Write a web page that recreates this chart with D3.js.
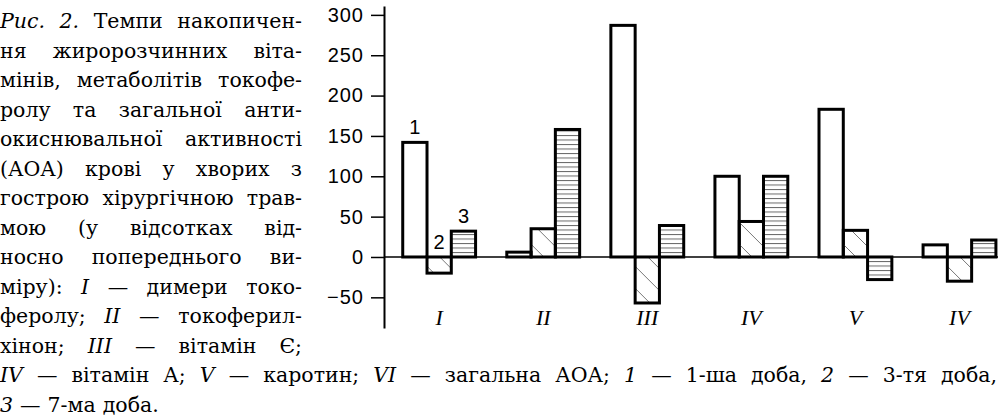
<!DOCTYPE html>
<html>
<head>
<meta charset="utf-8">
<script src="https://cdn.jsdelivr.net/npm/d3@7"></script>
<style>
  body { margin: 0; background: #fff; }
  svg { display: block; }
</style>
</head>
<body>
<svg id="chart" width="1001" height="415"></svg>
<script>
// categories (the last one is printed "IV" in the source figure)
const categories = ["I", "II", "III", "IV", "V", "IV"];
const seriesLabels = ["1", "2", "3"];

// percent change vs previous measurement
const day1 = [142, 6, 287, 100, 183, 15];
const day3 = [-20, 35, -57, 44, 33, -30];
const day7 = [32, 158, 39, 100, -28, 21];

const yTicks = [-50, 0, 50, 100, 150, 200, 250, 300];

// caption, "*" marks italic words
const captionLeft = [
    "*Рис. *2. Темпи накопичен-",
    "ня жиророзчинних віта-",
    "мінів, метаболітів токофе-",
    "ролу та загальної анти-",
    "окиснювальної активності",
    "(АОА) крові у хворих з",
    "гострою хірургічною трав-",
    "мою (у відсотках від-",
    "носно попереднього ви-",
    "міру): *I — димери токо-",
    "феролу; *II — токоферил-",
    "хінон; *III — вітамін Є;"
];
const captionBottom = [
    "*IV — вітамін А; *V — каротин; *VI — загальна АОА; *1 — 1-ша доба, *2 — 3-тя доба,",
    "*3 — 7-ма доба."
];

var svg = d3.select("#chart");
var defs = svg.append("defs");

// hatch patterns
var diag = defs.append("pattern")
    .attr("id", "diag")
    .attr("patternUnits", "userSpaceOnUse")
    .attr("width", 22)
    .attr("height", 22);
diag.append("path")
    .attr("d", "M-2,-2L24,24M-2,20L2,24M20,-2L24,2")
    .attr("stroke", "#777")
    .attr("stroke-width", 1);

var horiz = defs.append("pattern")
    .attr("id", "horiz")
    .attr("patternUnits", "userSpaceOnUse")
    .attr("width", 6)
    .attr("height", 4.5);
horiz.append("line")
    .attr("x1", 0).attr("x2", 6)
    .attr("y1", 0.5).attr("y2", 0.5)
    .attr("stroke", "#666")
    .attr("stroke-width", 1);

const fills = ["#fff", "url(#diag)", "url(#horiz)"];
const series = [day1, day3, day7];

// scales
var axisX = 384, rightX = 998;

var x0 = d3.scaleBand()
    .domain(d3.range(categories.length))
    .range([axisX, rightX])
    .paddingInner(0.3)
    .paddingOuter(0.1)
    .align(0.9);

var x1 = d3.scaleBand()
    .domain(d3.range(series.length))
    .range([0, x0.bandwidth()]);

var y = d3.scaleLinear()
    .domain([-88, 311])
    .range([328, 6]);

// zero line
svg.append("line")
    .attr("x1", axisX).attr("x2", rightX)
    .attr("y1", y(0)).attr("y2", y(0))
    .attr("stroke", "#000")
    .attr("stroke-width", 1.5);

// bars
var groups = svg.append("g")
    .selectAll("g")
    .data(categories)
    .join("g")
    .attr("transform", (d, i) => "translate(" + x0(i) + ",0)");

groups.selectAll("rect")
    .data((d, i) => series.map((s, k) => ({ k: k, v: s[i] })))
    .join("rect")
    .attr("x", d => x1(d.k))
    .attr("width", x1.bandwidth())
    .attr("y", d => y(Math.max(d.v, 0)))
    .attr("height", d => Math.abs(y(d.v) - y(0)))
    .attr("fill", d => fills[d.k])
    .attr("stroke", "#000")
    .attr("stroke-width", 3);

// series numbers above the first group
svg.append("g")
    .selectAll("text")
    .data(seriesLabels)
    .join("text")
    .attr("x", (d, k) => x0(0) + x1(k) + x1.bandwidth() / 2)
    .attr("y", (d, k) => y(Math.max(series[k][0], 0)) - 8)
    .attr("text-anchor", "middle")
    .style("font-family", "'Liberation Sans', Arial, sans-serif")
    .style("font-size", "20px")
    .text(d => d);

// y axis
var yAxis = svg.append("g")
    .attr("transform", "translate(" + axisX + ",0)")
    .call(d3.axisLeft(y).tickValues(yTicks).tickSize(13).tickSizeOuter(0).tickPadding(7));
yAxis.select(".domain").attr("stroke-width", 2);
yAxis.selectAll(".tick line").attr("stroke-width", 1.5);
yAxis.selectAll(".tick text")
    .style("font-family", "'Liberation Sans', Arial, sans-serif")
    .style("font-size", "20px")
    .style("letter-spacing", "1px")
    .attr("fill", "#000");

// category labels
svg.append("g")
    .selectAll("text")
    .data(categories)
    .join("text")
    .attr("x", (d, i) => x0(i) + x0.bandwidth() / 2)
    .attr("y", 325)
    .attr("text-anchor", "middle")
    .style("font-family", "'Liberation Serif', 'Times New Roman', serif")
    .style("font-style", "italic")
    .style("font-size", "22px")
    .text(d => d);

// caption: justified lines, word by word
var cap = svg.append("g")
    .style("font-family", "'DejaVu Serif', serif")
    .style("font-size", "20.5px")
    .attr("fill", "#000");

function captionLine(line, left, width, baseline, justify) {
    var words = line.split(" ");
    var nodes = words.map(w => {
        var it = w.startsWith("*");
        return cap.append("text")
            .attr("y", baseline)
            .style("font-style", it ? "italic" : null)
            .text(it ? w.slice(1) : w);
    });
    var widths = nodes.map(n => n.node().getComputedTextLength());
    var total = d3.sum(widths);
    var gap = justify && words.length > 1 ? Math.max(4, (width - total) / (words.length - 1)) : 7;
    var pos = left;
    nodes.forEach((n, i) => {
        n.attr("x", pos);
        pos += widths[i] + gap;
    });
}

var lineStep = 29.5, firstBase = 28;
captionLeft.forEach((line, i) => captionLine(line, 0, 302, firstBase + i * lineStep, true));
captionBottom.forEach((line, i) => captionLine(line, 0, 997,
    firstBase + (captionLeft.length + i) * lineStep, i === 0));
</script>
</body>
</html>
